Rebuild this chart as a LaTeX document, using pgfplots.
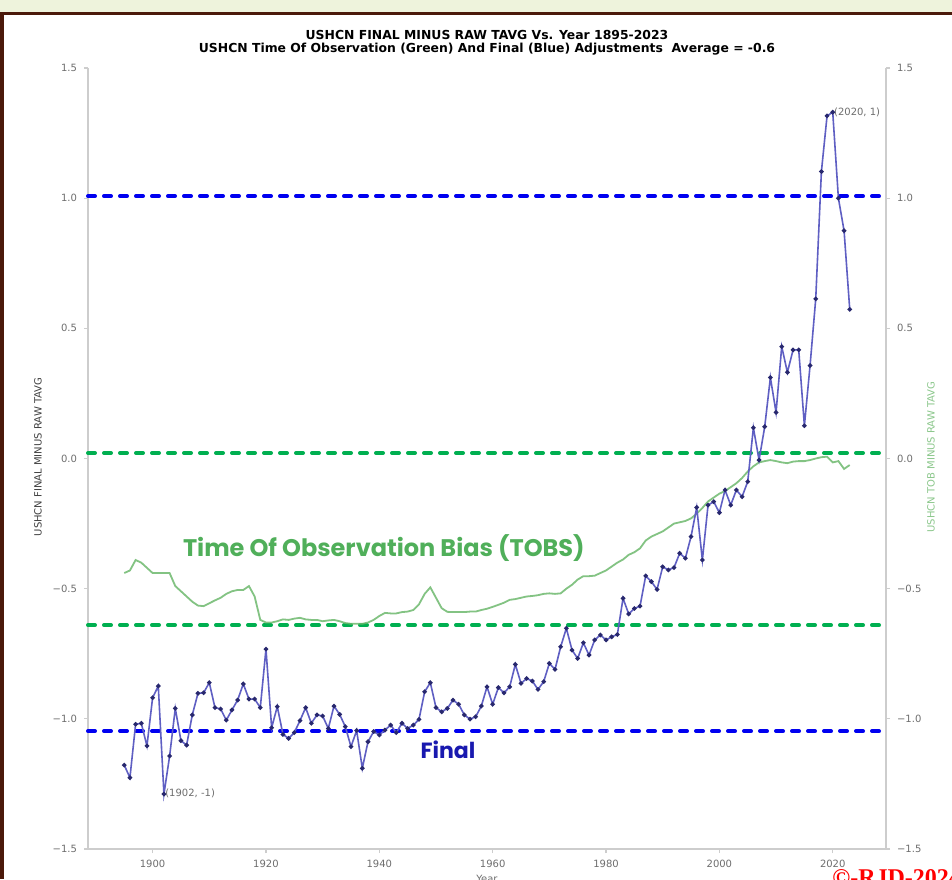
\documentclass[border=0pt]{standalone}
\usepackage{pgfplots}
\pgfplotsset{compat=1.18}
\usepackage{pgfplotstable}
\usepackage{fontspec}
\setmainfont{DejaVu Sans}
\newfontfamily\annfont{Poppins}
\newfontfamily\rjdfont{Liberation Serif}

\definecolor{finalline}{RGB}{95,95,195}
\definecolor{finalmark}{RGB}{40,40,110}
\definecolor{tobsline}{RGB}{110,185,110}
\definecolor{tobstext}{RGB}{80,175,90}
\definecolor{finaltext}{RGB}{25,25,175}
\definecolor{dashblue}{RGB}{0,0,240}
\definecolor{dashgreen}{RGB}{0,175,80}
\definecolor{spine}{RGB}{205,205,205}
\definecolor{ticklab}{RGB}{110,110,110}
\definecolor{band}{RGB}{238,243,220}
\definecolor{brown}{RGB}{75,25,10}

% USHCN final minus raw (blue)
\pgfplotstableread{
year val
1895 -1.178
1896 -1.226
1897 -1.021
1898 -1.017
1899 -1.104
1900 -0.919
1901 -0.874
1902 -1.289
1903 -1.143
1904 -0.960
1905 -1.084
1906 -1.101
1907 -0.985
1908 -0.902
1909 -0.900
1910 -0.861
1911 -0.957
1912 -0.962
1913 -1.005
1914 -0.966
1915 -0.928
1916 -0.866
1917 -0.924
1918 -0.924
1919 -0.957
1920 -0.732
1921 -1.034
1922 -0.953
1923 -1.060
1924 -1.075
1925 -1.053
1926 -1.007
1927 -0.957
1928 -1.017
1929 -0.985
1930 -0.989
1931 -1.037
1932 -0.951
1933 -0.983
1934 -1.030
1935 -1.107
1936 -1.045
1937 -1.190
1938 -1.088
1939 -1.049
1940 -1.062
1941 -1.043
1942 -1.024
1943 -1.053
1944 -1.017
1945 -1.037
1946 -1.024
1947 -1.002
1948 -0.896
1949 -0.861
1950 -0.957
1951 -0.973
1952 -0.960
1953 -0.928
1954 -0.944
1955 -0.985
1956 -1.001
1957 -0.992
1958 -0.951
1959 -0.877
1960 -0.944
1961 -0.880
1962 -0.900
1963 -0.877
1964 -0.791
1965 -0.864
1966 -0.845
1967 -0.855
1968 -0.887
1969 -0.857
1970 -0.787
1971 -0.810
1972 -0.723
1973 -0.652
1974 -0.736
1975 -0.768
1976 -0.708
1977 -0.755
1978 -0.697
1979 -0.678
1980 -0.697
1981 -0.685
1982 -0.676
1983 -0.537
1984 -0.597
1985 -0.576
1986 -0.567
1987 -0.451
1988 -0.473
1989 -0.503
1990 -0.416
1991 -0.428
1992 -0.419
1993 -0.364
1994 -0.383
1995 -0.300
1996 -0.188
1997 -0.390
1998 -0.179
1999 -0.166
2000 -0.208
2001 -0.121
2002 -0.179
2003 -0.121
2004 -0.147
2005 -0.089
2006 0.118
2007 -0.006
2008 0.122
2009 0.311
2010 0.177
2011 0.430
2012 0.331
2013 0.417
2014 0.417
2015 0.126
2016 0.357
2017 0.613
2018 1.102
2019 1.316
2020 1.330
2021 1.000
2022 0.875
2023 0.573
}\finaltab

% TOBS minus raw (green)
\pgfplotstableread{
year val
1895 -0.44
1896 -0.43
1897 -0.39
1898 -0.40
1899 -0.42
1900 -0.44
1901 -0.44
1902 -0.44
1903 -0.44
1904 -0.49
1905 -0.51
1906 -0.53
1907 -0.55
1908 -0.565
1909 -0.567
1910 -0.556
1911 -0.545
1912 -0.535
1913 -0.52
1914 -0.51
1915 -0.505
1916 -0.505
1917 -0.49
1918 -0.53
1919 -0.62
1920 -0.63
1921 -0.63
1922 -0.625
1923 -0.618
1924 -0.62
1925 -0.615
1926 -0.612
1927 -0.618
1928 -0.62
1929 -0.62
1930 -0.625
1931 -0.622
1932 -0.62
1933 -0.625
1934 -0.632
1935 -0.635
1936 -0.635
1937 -0.635
1938 -0.63
1939 -0.62
1940 -0.605
1941 -0.593
1942 -0.595
1943 -0.595
1944 -0.59
1945 -0.588
1946 -0.582
1947 -0.56
1948 -0.52
1949 -0.495
1950 -0.535
1951 -0.575
1952 -0.589
1953 -0.59
1954 -0.59
1955 -0.59
1956 -0.588
1957 -0.588
1958 -0.582
1959 -0.577
1960 -0.57
1961 -0.562
1962 -0.554
1963 -0.543
1964 -0.54
1965 -0.535
1966 -0.53
1967 -0.528
1968 -0.525
1969 -0.52
1970 -0.518
1971 -0.52
1972 -0.518
1973 -0.50
1974 -0.485
1975 -0.465
1976 -0.452
1977 -0.452
1978 -0.45
1979 -0.44
1980 -0.43
1981 -0.415
1982 -0.40
1983 -0.388
1984 -0.37
1985 -0.36
1986 -0.345
1987 -0.315
1988 -0.30
1989 -0.29
1990 -0.28
1991 -0.265
1992 -0.25
1993 -0.245
1994 -0.24
1995 -0.23
1996 -0.212
1997 -0.19
1998 -0.165
1999 -0.15
2000 -0.135
2001 -0.125
2002 -0.11
2003 -0.095
2004 -0.075
2005 -0.05
2006 -0.03
2007 -0.015
2008 -0.01
2009 -0.006
2010 -0.01
2011 -0.015
2012 -0.018
2013 -0.012
2014 -0.01
2015 -0.01
2016 -0.006
2017 0.0
2018 0.005
2019 0.007
2020 -0.015
2021 -0.01
2022 -0.04
2023 -0.025
}\tobstab

\begin{document}
\begin{tikzpicture}
% page frame: 952 x 879 px at 1 px = 0.5 pt
\path[use as bounding box] (0,0) rectangle (476pt,439.5pt);
\begin{scope}[x=0.5pt,y=0.5pt]
\fill[white] (0,0) rectangle (952,879);
\fill[band] (0,866) rectangle (952,879);
\fill[brown] (0,864) rectangle (952,867);
\fill[brown] (0,0) rectangle (4,866);
\end{scope}

\pgfplotsset{
  chartbase/.style={
    at={(44pt,15pt)}, anchor=south west,
    scale only axis, width=399pt, height=390.5pt,
    xmin=1888.6, xmax=2029.4, ymin=-1.5, ymax=1.5,
    axis line style={spine, line width=1pt},
    tick style={spine, line width=0.6pt},
    major tick length=2pt, tick align=outside,
    ticklabel style={font=\fontsize{5}{6}\selectfont, text=ticklab},
    ytick={-1.5,-1,-0.5,0,0.5,1,1.5},
    yticklabels={−1.5,−1.0,−0.5,0.0,0.5,1.0,1.5},
  }
}

\begin{axis}[chartbase,
    axis x line*=bottom, axis y line*=left,
    xtick={1900,1920,1940,1960,1980,2000,2020},
    xticklabels={1900,1920,1940,1960,1980,2000,2020},
    xlabel={Year}, xlabel style={font=\fontsize{5}{6}\selectfont, text=ticklab, yshift=3pt},
    clip=false,
]
  % reference lines
  \addplot[dashgreen, line width=2pt, line cap=round, dash pattern=on 3.5pt off 4.5pt]
    coordinates {(1888.6,0.021) (2029.4,0.021)};
  \addplot[dashgreen, line width=2pt, line cap=round, dash pattern=on 3.5pt off 4.5pt]
    coordinates {(1888.6,-0.640) (2029.4,-0.640)};
  \addplot[dashblue, line width=2pt, line cap=round, dash pattern=on 3.5pt off 4.5pt]
    coordinates {(1888.6,1.008) (2029.4,1.008)};
  \addplot[dashblue, line width=2pt, line cap=round, dash pattern=on 3.5pt off 4.5pt]
    coordinates {(1888.6,-1.047) (2029.4,-1.047)};

  % TOBS
  \addplot[tobsline, line width=0.9pt, opacity=0.85, no markers] table[x=year,y=val] {\tobstab};
  % Final
  \addplot[finalline, line width=0.8pt, mark=*, mark size=0.7pt,
           mark options={fill=finalmark, draw=finalmark}] table[x=year,y=val] {\finaltab};

  \node[anchor=base west, font=\fontsize{5}{6}\selectfont, text=ticklab, inner sep=0.5pt]
    at (axis cs:1902,-1.30) {(1902, -1)};
  \node[anchor=base west, font=\fontsize{5}{6}\selectfont, text=ticklab, inner sep=0.5pt]
    at (axis cs:2020,1.318) {(2020, 1)};

  \node[font=\annfont\bfseries\fontsize{12}{14}\selectfont, text=tobstext]
    at (axis cs:1940.8,-0.344) {Time Of Observation Bias (TOBS)};
  \node[font=\annfont\bfseries\fontsize{11}{13}\selectfont, text=finaltext]
    at (axis cs:1952.1,-1.12) {Final};
\end{axis}

\begin{axis}[chartbase,
    axis x line=none, axis y line*=right,
]
\end{axis}

% titles and axis labels
\begin{scope}[x=0.5pt,y=0.5pt]
\node[font=\bfseries\fontsize{6.2}{6.4}\selectfont, align=center] at (487,836)
  {USHCN FINAL MINUS RAW TAVG Vs. Year 1895-2023\\
   USHCN Time Of Observation (Green) And Final (Blue) Adjustments\ \ Average = -0.6};
\node[rotate=90, font=\fontsize{5}{6}\selectfont, text=black!75] at (38,422)
  {USHCN FINAL MINUS RAW TAVG};
\node[rotate=90, font=\fontsize{5}{6}\selectfont, text=tobsline!80!white] at (931,422)
  {USHCN TOB MINUS RAW TAVG};
% watermark, partly off the page
\node[anchor=base west, font=\rjdfont\bfseries\fontsize{12}{14}\selectfont, text=red, inner sep=0pt]
  at (832,-6) {©-RJD-2024};
\end{scope}
\end{tikzpicture}
\end{document}
